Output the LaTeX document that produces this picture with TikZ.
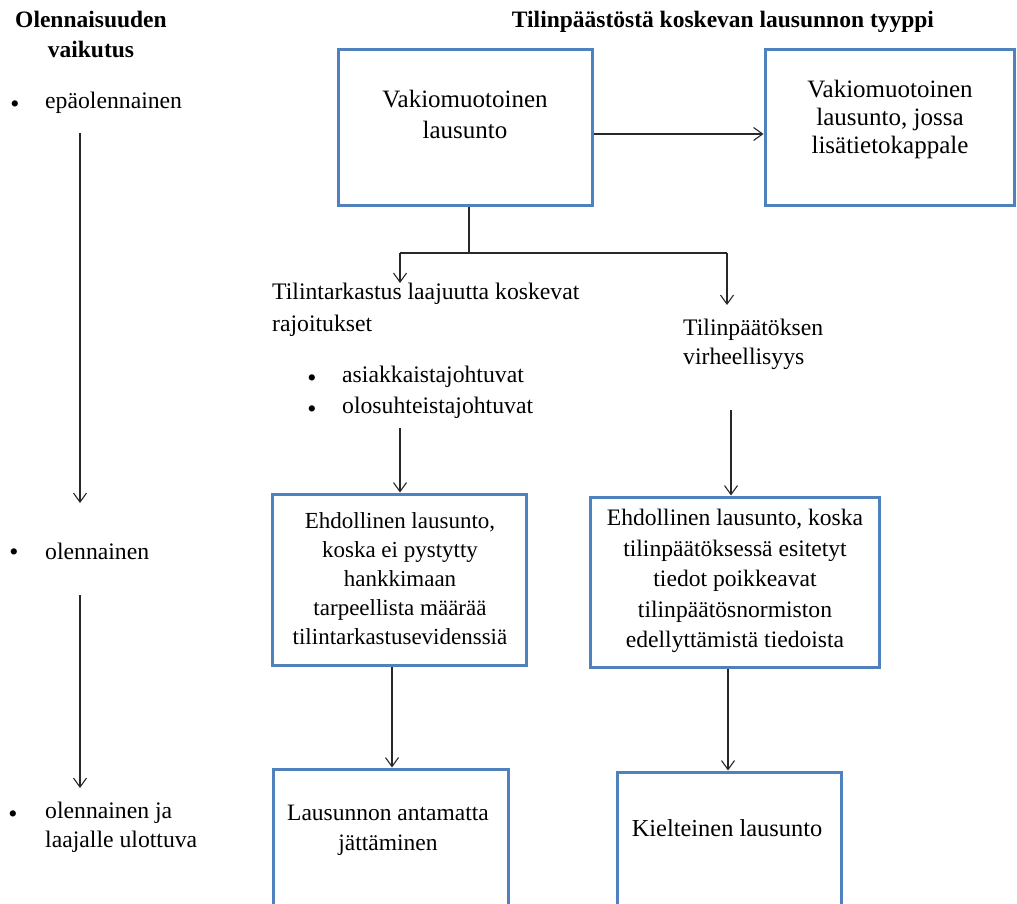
\documentclass[tikz,border=0pt]{standalone}
\usepackage{fontspec}
\setmainfont{Liberation Serif}
\usetikzlibrary{arrows.meta}
\definecolor{boxblue}{RGB}{79,129,189}
\definecolor{linegray}{RGB}{40,40,40}
\begin{document}
\begin{tikzpicture}[x=1pt,y=-1pt,
  box/.style={draw=boxblue,line width=3pt,rectangle,inner sep=0pt,fill=white},
  txt/.style={inner sep=0pt,font=\fontsize{23.7}{30}\selectfont,align=center,text=black},
  ltxt/.style={inner sep=0pt,font=\fontsize{23.7}{30}\selectfont,align=left,text=black},
  ttl/.style={inner sep=0pt,font=\fontsize{23.5}{30}\selectfont\bfseries,align=center,text=black},
  bul/.style={inner sep=0pt,font=\fontsize{26}{26}\selectfont,text=black,anchor=base,text height=0.5em,text depth=0pt},
  conn/.style={draw=linegray,line width=1.1pt},
  arr/.style={conn,-{Straight Barb[length=9pt,width=13pt,line width=1.1pt]}}]
\useasboundingbox (0,0) rectangle (1017,904);
\clip (0,0) rectangle (1017,904);
\fill[white] (0,0) rectangle (1017,904);

% titles
\node[ttl,anchor=north] (title1) at (91,11) {Olennaisuuden\\vaikutus};
\node[ttl] (title2) at (723,22) {Tilinpäästöstä koskevan lausunnon tyyppi};

% left column
\node[bul] (lb1) at (15,112.5) {•};
\node[ltxt,anchor=west] (lt1) at (45,103) {epäolennainen};
\node[bul] (lb2) at (14,560.5) {•};
\node[ltxt,anchor=west] (lt2) at (45,551) {olennainen};
\node[bul] (lb3) at (13,822.5) {•};
\node[ltxt,anchor=north west,font=\fontsize{23.7}{29}\selectfont] (lt3) at (45,802) {olennainen ja\\laajalle ulottuva};

\coordinate (la1s) at (80,133);
\coordinate (la1e) at (80,503);
\coordinate (la2s) at (80,595);
\coordinate (la2e) at (80,788);
\draw[arr] (la1s) -- (la1e);
\draw[arr] (la2s) -- (la2e);

% boxes
\node[box,minimum width=254pt,minimum height=156pt] (b1) at (465,128) {};
\node[box,minimum width=249pt,minimum height=156pt] (b2) at (889.5,128) {};
\node[box,minimum width=254pt,minimum height=171pt] (b3) at (399,579.5) {};
\node[box,minimum width=289pt,minimum height=170pt] (b4) at (734.5,582) {};
\node[box,minimum width=235pt,minimum height=240pt] (b5) at (390.5,889) {};
\node[box,minimum width=224pt,minimum height=240pt] (b6) at (729,892) {};

% box texts
\node[txt,anchor=north,font=\fontsize{25}{31}\selectfont] (t1) at (465,90) {Vakiomuotoinen\\lausunto};
\node[txt,anchor=north,font=\fontsize{25}{28}\selectfont] (t2) at (890,80) {Vakiomuotoinen\\lausunto, jossa\\lisätietokappale};
\node[txt,anchor=north,font=\fontsize{23}{29}\selectfont] (t3) at (400,512) {Ehdollinen lausunto,\\koska ei pystytty\\hankkimaan\\tarpeellista määrää\\tilintarkastusevidenssiä};
\node[txt,anchor=north,font=\fontsize{23.6}{30.5}\selectfont] (t4) at (735,509) {Ehdollinen lausunto, koska\\tilinpäätöksessä esitetyt\\tiedot poikkeavat\\tilinpäätösnormiston\\edellyttämistä tiedoista};
\node[txt,anchor=north,font=\fontsize{23.5}{30}\selectfont] (t5) at (388,805) {Lausunnon antamatta\\jättäminen};
\node[txt,font=\fontsize{24.4}{30}\selectfont] (t6) at (727,828) {Kielteinen lausunto};

% middle texts
\node[ltxt,anchor=north west,font=\fontsize{23.7}{32}\selectfont] (lim) at (272,283) {Tilintarkastus laajuutta koskevat\\rajoitukset};
\node[bul] (mb1) at (312,386.5) {•};
\node[ltxt,anchor=west] (mt1) at (342,377) {asiakkaistajohtuvat};
\node[bul] (mb2) at (312,417.5) {•};
\node[ltxt,anchor=west] (mt2) at (342,408) {olosuhteistajohtuvat};
\node[ltxt,anchor=north west,font=\fontsize{23.7}{29}\selectfont] (vir) at (683,319) {Tilinpäätöksen\\virheellisyys};

% connectors
\draw[arr] ([yshift=-6pt]b1.east) -- ([yshift=-6pt]b2.west);
\coordinate (j) at (469,253);
\coordinate (jl) at (400,253);
\coordinate (jr) at (727,253);
\coordinate (virtop) at (727,305);
\draw[conn] ([xshift=4pt]b1.south) -- (j);
\draw[conn] (jl) -- (jr);
\draw[arr] (jl) -- (jl |- lim.north);
\draw[arr] (jr) -- (virtop);

\coordinate (lims) at (400,428);
\coordinate (virs) at (731,410);
\draw[arr] (lims) -- (lims |- b3.north);
\draw[arr] (virs) -- (virs |- b4.north);
\draw[arr] ([xshift=-7pt]b3.south) -- ([xshift=-7pt]b3.south |- b5.north);
\draw[arr] ([xshift=-6.5pt]b4.south) -- ([xshift=-6.5pt]b4.south |- b6.north);
\end{tikzpicture}
\end{document}
